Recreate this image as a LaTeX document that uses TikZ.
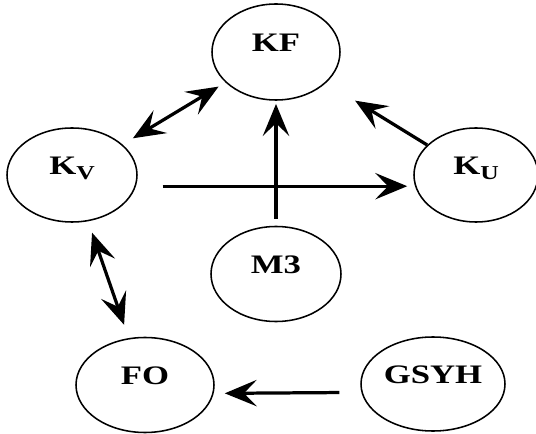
\documentclass[tikz,border=0pt]{standalone}
\usepackage{fontspec}
\setmainfont[FakeStretch=1.3]{Liberation Serif}
\usetikzlibrary{arrows.meta, shapes.geometric}

\newcommand{\lowsub}[1]{\raisebox{-3.5pt}{\fontsize{14}{15}\selectfont #1}}

\begin{document}
\begin{tikzpicture}[
        >={Stealth[length=0.8cm, width=0.66cm, inset=0.32cm]},
        oval/.style={
            ellipse,
            draw,
            line width=1.1pt,
            minimum width=3.25cm,
            minimum height=2.35cm,
            inner sep=0pt,
            text height=0.46cm,
            text depth=0.5cm,
            font=\fontsize{19}{22}\selectfont\bfseries
        },
        link/.style={
            line width=2.3pt
        }
    ]
        \useasboundingbox (0, 0) rectangle (13.4, 10.825);

        % the six boxes
        \node[oval, minimum width=3.2cm, minimum height=2.4cm] (KF) at (6.9, 9.525) {KF};
        \node[oval] (KV) at (1.8, 6.45) {K\lowsub{V}};
        \node[oval, minimum width=3.1cm] (KU) at (11.9, 6.45) {K\lowsub{U}};
        \node[oval, minimum height=2.375cm] (M3) at (6.9, 3.975) {M3};
        \node[oval, minimum width=3.45cm, minimum height=2.375cm] (FO) at (3.625, 1.2) {FO};
        \node[oval, minimum width=3.6cm] (GSYH) at (10.825, 1.225) {GSYH};

        % links
        \draw[link, <->, shorten <=0.3cm, shorten >=0.2cm] (KV) -- (KF);
        \draw[link, ->, shorten <=0.18cm, shorten >=0.08cm] (M3.north) -- (KF.south);
        \draw[link, ->, shorten >=0.85cm] (KU) -- (KF);
        \draw[link, ->, shorten <=0.62cm, shorten >=0.15cm]
            ([yshift=-0.28cm]KV.east) -- ([yshift=-0.28cm]KU.west);
        \draw[link, <->, shorten <=0.3cm, shorten >=0.35cm] (KV) -- (FO);
        \draw[link, ->, shorten <=0.52cm, shorten >=0.25cm]
            ([yshift=-0.21cm]GSYH.west) -- ([yshift=-0.21cm]FO.east);
    \end{tikzpicture}
\end{document}
